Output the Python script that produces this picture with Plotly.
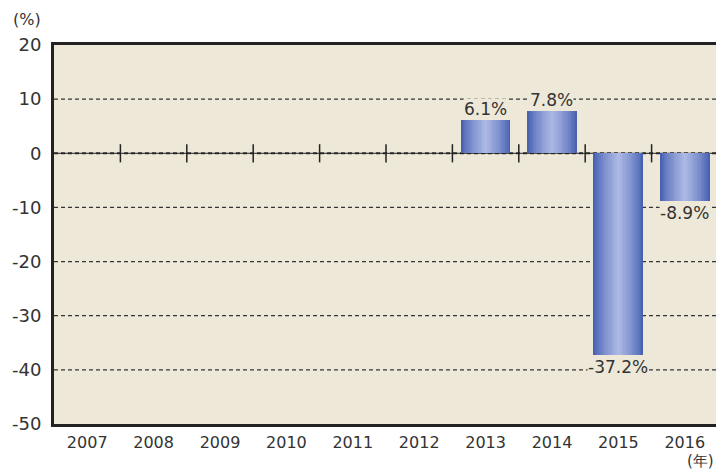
import plotly.graph_objects as go

years = ["2007", "2008", "2009", "2010", "2011", "2012", "2013", "2014", "2015", "2016"]
values = [None, None, None, None, None, None, 6.1, 7.8, -37.2, -8.9]
labels = ["", "", "", "", "", "", "6.1%", "7.8%", "-37.2%", "-8.9%"]
y_ticks = [20, 10, 0, -10, -20, -30, -40, -50]
y_ticktext = ["20", "10", "0", "-10", "-20", "-30", "-40", "-50"]

FONT = "DejaVu Sans, Liberation Sans, Arial, sans-serif"
TXT = "#333333"
xs = list(range(len(years)))

fig = go.Figure()

# gradient bars via overlaid layers (dark edges -> light centre)
n = 14
dark = (72, 98, 178)
light = (172, 184, 228)
for i in range(n):
    t = i / (n - 1)
    w = 0.75 * (1 - t) + 0.04 * t
    c = tuple(round(dark[k] + (light[k] - dark[k]) * (t ** 0.8)) for k in range(3))
    fig.add_trace(go.Bar(
        x=xs, y=values, width=w,
        marker=dict(color="rgb(%d,%d,%d)" % c, line=dict(width=0)),
        hoverinfo="skip", showlegend=False,
    ))

# cross ticks at category boundaries on the zero line
bx = [k + 0.5 for k in xs[:-1]]
fig.add_trace(go.Scatter(
    x=bx, y=[0] * len(bx), mode="markers",
    marker=dict(symbol="line-ns-open", size=13, color="#222",
                line=dict(color="#222", width=1.5)),
    hoverinfo="skip", showlegend=False,
))

# value labels
for x, v, lab in zip(xs, values, labels):
    if v is None:
        continue
    fig.add_annotation(
        x=x, y=v, text=lab, showarrow=False,
        yanchor="bottom" if v > 0 else "top",
        yshift=0 if v > 0 else -1,
        font=dict(family=FONT, size=17, color=TXT),
        bgcolor="#eee8d8", borderpad=0,
    )

# dashed grid lines
for yv in y_ticks:
    if yv in (20, -50):
        continue
    fig.add_shape(type="line", xref="paper", yref="y", x0=0, x1=1, y0=yv, y1=yv,
                  line=dict(color="#333", width=1.2 if yv else 2, dash="4px,3px"),
                  layer="below")
fig.add_shape(type="line", xref="paper", yref="y", x0=0, x1=1, y0=0, y1=0,
              line=dict(color="#222", width=1), layer="below")

fig.add_annotation(x=-0.041, y=1.068, xref="paper", yref="paper", text="(%)",
                   showarrow=False, xanchor="center", yanchor="middle",
                   font=dict(family=FONT, size=16, color=TXT))
fig.add_annotation(x=0.976, y=-0.097, xref="paper", yref="paper", text="(年)",
                   showarrow=False, xanchor="center", yanchor="middle",
                   font=dict(family=FONT, size=15, color=TXT))

fig.update_layout(
    width=716, height=469,
    margin=dict(l=54, r=0, t=45, b=45),
    paper_bgcolor="white", plot_bgcolor="#eee8d8",
    barmode="overlay", bargap=0,
    showlegend=False,
    font=dict(family=FONT, color=TXT),
)
fig.update_xaxes(
    range=[-0.5, 9.47], tickmode="array", tickvals=xs, ticktext=years,
    showgrid=False, zeroline=False, ticks="", ticklabelstandoff=2,
    tickfont=dict(size=16, color=TXT),
    showline=True, linecolor="#222", linewidth=3, mirror=True,
)
fig.update_yaxes(
    range=[-50, 20], tickmode="array", tickvals=y_ticks, ticktext=y_ticktext,
    showgrid=False, zeroline=False, ticks="", ticklabelstandoff=6,
    tickfont=dict(size=18, color=TXT),
    showline=True, linecolor="#222", linewidth=3, mirror=False,
)

fig.write_html("out.html", config={"displayModeBar": False},
               post_script="document.body.style.margin='0';document.body.style.overflow='hidden';")
